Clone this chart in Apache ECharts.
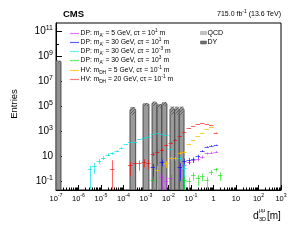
<!DOCTYPE html>
<html><head><meta charset="utf-8">
<script src="https://cdn.jsdelivr.net/npm/echarts@6/dist/echarts.min.js"></script>
<style>html,body{margin:0;padding:0;background:#fff}#c{width:293px;height:240px}</style>
</head><body><div id="c"></div>
<script>
// ---- signal binning: log10(d) bins of width 0.2 starting at 1e-7 m ----
const BIN0 = -7, BINW = 0.2;
const yMin = 0.02, yMax = 5e11;
const xMajor = [1e-7,1e-6,1e-5,1e-4,1e-3,1e-2,1e-1,1,10,100,1000];
const yMajor = [1e-1,1e1,1e3,1e5,1e7,1e9,1e11];
const yMinorTicks = [1,1e2,1e4,1e6,1e8,1e10];

// ---- backgrounds: bin low edge [m], bin high edge [m], value, stat error ----
const dyLo  = [1e-7];
const dyHi  = [1.66e-7];
const dyVals = [4e8];
const dyErrs = [1e8];
const qcdLo = [1.95e-4, 7.4e-4, 1.86e-3, 3.1e-3, 5.1e-3, 1.17e-2, 1.9e-2, 3.0e-2];
const qcdHi = [3.47e-4, 1.35e-3, 3.1e-3, 5.1e-3, 8.5e-3, 1.9e-2, 3.0e-2, 4.9e-2];
const qcdVals = [5.6e4, 1.5e5, 1.8e5, 1.2e5, 1.7e5, 6e4, 6e4, 6e4];
const qcdErrs = [3.5e4, 4e4, 7e4, 4e4, 6e4, 3.8e4, 3.8e4, 3.8e4];

// ---- signals (bin index, value, stat error) ----
const dp5ct10Bins = [23,24,25,27,28,29,30,31,32,33,34,35];
const dp5ct10Vals = [0.21,0.1,0.17,0.8,2.0,3.6,5,6,9,17,20,23];
const dp5ct10Errs = [0.2,0.1,0.17,0.6,1.2,1.6,1.9,2.0,2.5,3.4,3.7,4];

const dp30ct10Bins = [21,23,27,28,29,30,31,32,33,34,35];
const dp30ct10Vals = [1.3,3.6,1.5,4,5,5.6,10,27,59,71,79];
const dp30ct10Errs = [1.2,2,1.4,2.5,2.5,2.7,3.5,5,7,8,8];

const dp30ct1mmBins = [7,8,9,10,11,12,13,14,15,16,17,18,19,20,21,22,23,24,25,27,28];
const dp30ct1mmVals = [0.9,1.6,4.4,7.6,14,17,26,49,91,130,150,230,310,370,620,690,630,500,38,6.8,1.2];
const dp30ct1mmErrs = [0.9,1.2,2.0,2.6,3.5,3.9,4.8,6.6,9,11,12,14,17,18,24,25,24,21,6,2.5,1.2];

const dp30ct1kmBins = [21,28,29,30,31,32,33,34,35,36];
const dp30ct1kmVals = [0.12,0.12,0.1,0.31,0.17,0.26,0.12,0.56,0.9,0.31];
const dp30ct1kmErrs = [0.12,0.12,0.1,0.2,0.13,0.16,0.11,0.25,0.3,0.2];

const hv5Bins = [22,24,25,26,27,28,29,30,31,32,33,34];
const hv5Vals = [0.78,2.7,6.8,6.8,19,23,91,200,430,780,1480,2100];
const hv5Errs = [1.0,1.5,2.3,2.3,4,4.3,8.5,13,19,25,35,42];

const hv20Bins = [12,16,17,18,19,20,21,22,23,24,25,26,27,28,29,30,31,32,33,34,35];
const hv20Vals = [0.9,1.95,2.7,2.7,3.6,3.0,16,22,35,80,126,224,400,890,1780,2700,3700,4500,4200,3200,800];
const hv20Errs = [4,1.7,2.0,2.0,2.3,2.1,5,5.7,7,11,14,18,24,36,50,64,75,82,80,70,35];

const legendNames = [
  "{t|DP: m}{sub|A'}{t| = 5 GeV, cτ = 10}{sup|1}{t| m}",
  "{t|DP: m}{sub|A'}{t| = 30 GeV, cτ = 10}{sup|1}{t| m}",
  "{t|DP: m}{sub|A'}{t| = 30 GeV, cτ = 10}{sup|-3}{t| m}",
  "{t|DP: m}{sub|A'}{t| = 30 GeV, cτ = 10}{sup|3}{t| m}",
  "{t|HV: m}{sub|DH}{t| = 5 GeV, cτ = 10}{sup|-1}{t| m}",
  "{t|HV: m}{sub|DH}{t| = 20 GeV, cτ = 10}{sup|-1}{t| m}"
];
const sigColors = ['rgba(200,40,255,0.6)','rgba(0,0,255,0.6)','rgba(0,225,225,0.7)','rgba(0,225,0,0.6)','rgba(255,190,0,0.75)','rgba(255,0,0,0.6)'];
const legColors = ['#dd77ff','#5c5cff','#66f0f0','#66ee66','#ffcc33','#ff7777'];

const xMinor = [];
for (let e = -7; e < 3; e++) for (let k = 2; k <= 9; k++) xMinor.push(k * Math.pow(10, e));

function edge(i){ return Math.pow(10, BIN0 + BINW * i); }
function mk(bins, vals, errs){ return bins.map((b,k)=>[Math.pow(10, BIN0 + BINW*(b+0.5)), vals[k], errs[k], edge(b), edge(b+1)]); }
function mkBg(lo, hi, vals, errs){ return lo.map((l,k)=>[Math.sqrt(l*hi[k]), vals[k], errs[k], l, hi[k]]); }

// hatch pattern for the uncertainty band
const pc = document.createElement('canvas'); pc.width = 3; pc.height = 3;
const g = pc.getContext('2d');
g.fillStyle = '#9a9a9a'; g.fillRect(0,0,3,3);
g.fillStyle = '#5e5e5e'; g.fillRect(0,0,1,1); g.fillRect(2,1,1,1); g.fillRect(1,2,1,1);
const hatch = {image: pc, repeat: 'repeat'};

function renderHist(fill){
  return function(params, api){
    const v = api.value(1), e = api.value(2), lo = api.value(3), hi = api.value(4);
    const a = api.coord([lo, yMin]), b = api.coord([hi, v]);
    const c = api.coord([lo, v + e]), d = api.coord([hi, Math.max(v - e, yMin)]);
    return {type:'group', children:[
      {type:'rect', shape:{x:a[0], y:b[1], width:b[0]-a[0], height:a[1]-b[1]}, style:{fill:fill, stroke:'#4a4a4a', lineWidth:1}},
      {type:'rect', shape:{x:c[0]+0.5, y:c[1], width:d[0]-c[0]-1, height:d[1]-c[1]}, style:{fill:hatch}}
    ]};
  };
}
function renderCross(color){
  return function(params, api){
    const mid = api.value(0), v = api.value(1), e = api.value(2), lo = api.value(3), hi = api.value(4);
    const pl = api.coord([lo, v]), pr = api.coord([hi, v]);
    const pt = api.coord([mid, v + e]), pb = api.coord([mid, Math.max(v - e, yMin)]);
    const yh = Math.round(pl[1]) + 0.5, xm = Math.round(pt[0]) + 0.5;
    return {type:'group', children:[
      {type:'line', shape:{x1:pl[0], y1:yh, x2:pr[0], y2:yh}, style:{stroke:color, lineWidth:1}},
      {type:'line', shape:{x1:xm, y1:pt[1], x2:xm, y2:pb[1]}, style:{stroke:color, lineWidth:1}}
    ]};
  };
}
function sup(v){
  const e = Math.round(Math.log10(v));
  if (e === 0) return '{b|1}';
  if (e === 1) return '{b|10}';
  return '{b|10}{s|' + e + '}';
}
const FONT = 'Liberation Sans, Arial, sans-serif';

const sigSets = [
  mk(dp5ct10Bins, dp5ct10Vals, dp5ct10Errs),
  mk(dp30ct10Bins, dp30ct10Vals, dp30ct10Errs),
  mk(dp30ct1mmBins, dp30ct1mmVals, dp30ct1mmErrs),
  mk(dp30ct1kmBins, dp30ct1kmVals, dp30ct1kmErrs),
  mk(hv5Bins, hv5Vals, hv5Errs),
  mk(hv20Bins, hv20Vals, hv20Errs)
];

const series = [
  {type:'custom', name:'QCD', xAxisIndex:0, yAxisIndex:0, clip:true, renderItem: renderHist('#9a9a9a'), data: mkBg(qcdLo, qcdHi, qcdVals, qcdErrs), encode:{x:0,y:1}, z:1},
  {type:'custom', name:'DY', xAxisIndex:0, yAxisIndex:0, clip:true, renderItem: renderHist('#929292'), data: mkBg(dyLo, dyHi, dyVals, dyErrs), encode:{x:0,y:1}, z:1}
];
sigSets.forEach((d, k) => series.push({type:'custom', xAxisIndex:0, yAxisIndex:0, clip:true, renderItem: renderCross(sigColors[k]), data: d, encode:{x:0,y:1}, z:3}));

const graphics = [
  {type:'text', x:63, y:14, style:{text:'CMS', font:'bold 9.5px ' + FONT, fill:'#000', textAlign:'left', textVerticalAlign:'middle', align:'left', verticalAlign:'middle'}},
  {type:'text', x:281, y:14, style:{text:'{t|715.0 fb}{s|-1}{t| (13.6 TeV)}', fill:'#000', textAlign:'right', textVerticalAlign:'middle', align:'right', verticalAlign:'middle',
    rich:{t:{fontSize:7, fontFamily:FONT, lineHeight:10}, s:{fontSize:5, fontFamily:FONT, lineHeight:5, verticalAlign:'top'}}}},
  {type:'text', x:14, y:104, rotation:Math.PI/2, style:{text:'Entries', font:'9.5px ' + FONT, fill:'#000', textAlign:'center', textVerticalAlign:'middle', align:'center', verticalAlign:'middle'}},
  {type:'text', x:253, y:216, style:{text:'d', font:'10.5px ' + FONT, fill:'#000', textAlign:'left', textVerticalAlign:'middle', align:'left', verticalAlign:'middle'}},
  {type:'text', x:259, y:210, style:{text:'μμ', font:'5.5px ' + FONT, fill:'#000', textAlign:'left', textVerticalAlign:'middle', align:'left', verticalAlign:'middle'}},
  {type:'text', x:259, y:219.5, style:{text:'3D', font:'5.5px ' + FONT, fill:'#000', textAlign:'left', textVerticalAlign:'middle', align:'left', verticalAlign:'middle'}},
  {type:'text', x:267, y:216, style:{text:'[m]', font:'10px ' + FONT, fill:'#000', textAlign:'left', textVerticalAlign:'middle', align:'left', verticalAlign:'middle'}},
  // background legend
  {type:'rect', shape:{x:200.5, y:31.5, width:6, height:3}, style:{fill:'#c4c4c4', stroke:'#9a9a9a', lineWidth:0.5}},
  {type:'text', x:207.5, y:33, style:{text:'QCD', font:'7px ' + FONT, fill:'#000', textAlign:'left', textVerticalAlign:'middle', align:'left', verticalAlign:'middle'}},
  {type:'rect', shape:{x:200.5, y:41, width:6, height:3}, style:{fill:'#6e6e6e', stroke:'#555', lineWidth:0.5}},
  {type:'text', x:207.5, y:42.5, style:{text:'DY', font:'7px ' + FONT, fill:'#000', textAlign:'left', textVerticalAlign:'middle', align:'left', verticalAlign:'middle'}}
];
legendNames.forEach((nm, k) => {
  const y = Math.round(32.5 + k * 9.3) + 0.5;
  graphics.push({type:'line', shape:{x1:70, y1:y, x2:79, y2:y}, style:{stroke:legColors[k], lineWidth:1.2}, z:10});
  graphics.push({type:'text', x:80.5, y:y, style:{text:nm, fill:'#000', textAlign:'left', textVerticalAlign:'middle', align:'left', verticalAlign:'middle',
    rich:{t:{fontSize:6.8, fontFamily:FONT, lineHeight:10, fill:'#000'},
          sup:{fontSize:4.8, fontFamily:FONT, lineHeight:5, verticalAlign:'top', fill:'#000'},
          sub:{fontSize:4.8, fontFamily:FONT, lineHeight:5, verticalAlign:'bottom', fill:'#000'}}}});
});

const axRich = {
  b:{fontSize:7.5, fontFamily:FONT, color:'#000', lineHeight:11},
  s:{fontSize:5.2, fontFamily:FONT, color:'#000', lineHeight:6, verticalAlign:'top'}
};
const ayRich = {
  b:{fontSize:10, fontFamily:FONT, color:'#000', lineHeight:14},
  s:{fontSize:7, fontFamily:FONT, color:'#000', lineHeight:8, verticalAlign:'top'}
};

const chart = echarts.init(document.getElementById('c'), null, {renderer:'canvas'});
chart.setOption({
  animation:false,
  backgroundColor:'#fff',
  grid:{left:56, right:12, top:23, bottom:50, show:true, borderColor:'#000', borderWidth:1, backgroundColor:'transparent', containLabel:false},
  xAxis:[
    {type:'log', logBase:10, min:1e-7, max:1e3, position:'bottom',
     axisLine:{show:true, onZero:false, lineStyle:{color:'#000', width:1}},
     axisTick:{show:true, inside:true, length:5, customValues:xMajor, lineStyle:{color:'#000'}},
     axisLabel:{show:true, customValues:xMajor, margin:3, formatter:sup, rich:axRich, hideOverlap:false},
     splitLine:{show:false}},
    {type:'log', logBase:10, min:1e-7, max:1e3, position:'bottom',
     axisLine:{show:false}, axisLabel:{show:false},
     axisTick:{show:true, inside:true, length:2.5, customValues:xMinor, lineStyle:{color:'#000'}},
     splitLine:{show:false}}
  ],
  yAxis:[
    {type:'log', logBase:10, min:yMin, max:yMax, position:'left',
     axisLine:{show:true, onZero:false, lineStyle:{color:'#000', width:1}},
     axisTick:{show:true, inside:true, length:6, customValues:yMajor, lineStyle:{color:'#000'}},
     axisLabel:{show:true, customValues:yMajor, margin:3, formatter:sup, rich:ayRich, hideOverlap:false},
     splitLine:{show:false}},
    {type:'log', logBase:10, min:yMin, max:yMax, position:'left',
     axisLine:{show:false}, axisLabel:{show:false},
     axisTick:{show:true, inside:true, length:3, customValues:yMinorTicks, lineStyle:{color:'#000'}},
     splitLine:{show:false}}
  ],
  series: series,
  graphic: graphics
});
</script></body></html>
